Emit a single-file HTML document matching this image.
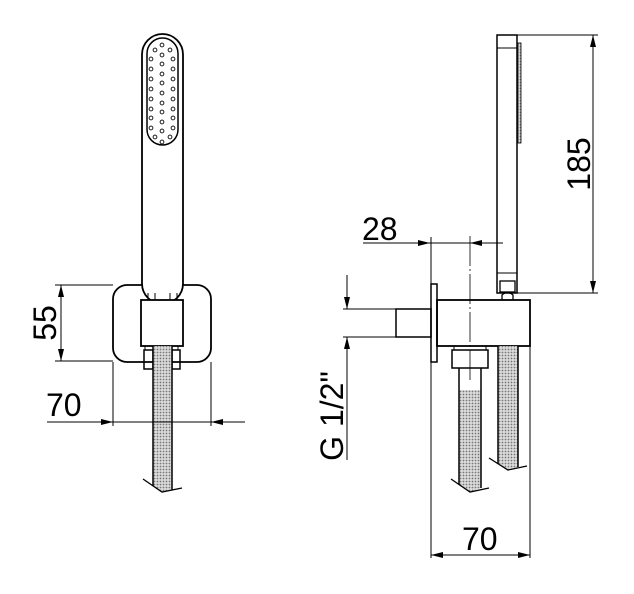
<!DOCTYPE html>
<html><head><meta charset="utf-8"><style>html,body{margin:0;padding:0;background:#fff}svg{display:block}</style></head>
<body>
<svg width="634" height="594" viewBox="0 0 634 594" xmlns="http://www.w3.org/2000/svg">
<defs>
<pattern id="dots" width="3" height="3" patternUnits="userSpaceOnUse"><rect width="3" height="3" fill="#dcdcdc"/><circle cx="1.5" cy="1.5" r="0.9" fill="#777"/></pattern>
<marker id="ar" viewBox="0 0 12 6" refX="12" refY="3" markerWidth="12" markerHeight="6" orient="auto" markerUnits="userSpaceOnUse"><path d="M0,0 L12,3 L0,6 Z" fill="#000"/></marker>
</defs>
<g fill="none" stroke="#000" stroke-width="1">
<!-- LEFT VIEW -->
<rect x="113" y="285" width="98" height="77" rx="14" stroke-width="1.8"/>
<rect x="142" y="34" width="41" height="270" rx="20.5" fill="#fff" stroke-width="1.8"/>
<rect x="147" y="38" width="31" height="107" rx="15.5" stroke-width="1.5"/>
<line x1="148" y1="293" x2="148" y2="300"/><line x1="177" y1="293" x2="177" y2="300"/>
<line x1="155" y1="293" x2="155" y2="300"/><line x1="170" y1="293" x2="170" y2="300"/>
<rect x="141" y="300" width="42" height="46" fill="#fff" stroke-width="1.8"/>
<rect x="145" y="346" width="33" height="4"/>
<rect x="144" y="350" width="9" height="19" stroke-width="1.5"/>
<rect x="172" y="350" width="8" height="19" stroke-width="1.5"/>
<path d="M153,346 L172,346 L172,489 L162,492 L153,486 Z" fill="url(#dots)" stroke="none"/>
<line x1="153" y1="346" x2="153" y2="486" stroke-width="1.5"/><line x1="172" y1="346" x2="172" y2="490" stroke-width="1.5"/>
<polyline points="143,479 162,492 182,488" stroke-width="1.3"/>
<!-- dims left -->
<line x1="55" y1="285" x2="113" y2="285"/><line x1="55" y1="361" x2="113" y2="361"/>
<line x1="61" y1="300" x2="61" y2="285" marker-end="url(#ar)"/>
<line x1="61" y1="346" x2="61" y2="361" marker-end="url(#ar)"/>
<line x1="61" y1="300" x2="61" y2="346"/>
<line x1="113" y1="362" x2="113" y2="426"/><line x1="211" y1="362" x2="211" y2="426"/>
<line x1="47" y1="422" x2="113" y2="422" marker-end="url(#ar)"/>
<line x1="113" y1="422" x2="211" y2="422"/>
<line x1="245" y1="422" x2="211" y2="422" marker-end="url(#ar)"/>
<!-- RIGHT VIEW -->
<rect x="497" y="35" width="20" height="258" stroke-width="1.5"/>
<line x1="497" y1="48" x2="517" y2="48"/>
<line x1="497" y1="273" x2="517" y2="273"/>
<rect x="518" y="43" width="3" height="100" fill="url(#dots)" stroke-width="0.8"/>
<rect x="500" y="281" width="15" height="11" stroke-width="1.3"/>
<path d="M502,300 L502,295 Q507.5,290 513,295 L513,300" stroke-width="1.3"/>
<rect x="437" y="300" width="93" height="46" stroke-width="1.8"/>
<rect x="431" y="284" width="6" height="78" stroke-width="1.5"/>
<rect x="396" y="309" width="35" height="28" stroke-width="1.5"/>
<line x1="343" y1="309" x2="396" y2="309"/><line x1="343" y1="337" x2="396" y2="337"/>
<rect x="454" y="346" width="32" height="4"/>
<rect x="452" y="350" width="36" height="18" stroke-width="1.5"/>
<path d="M459,390 L481,390 L481,488 L470,492 L459,485 Z" fill="url(#dots)" stroke="none"/>
<line x1="459" y1="368" x2="459" y2="485" stroke-width="1.5"/><line x1="481" y1="368" x2="481" y2="488" stroke-width="1.5"/>
<polyline points="451,479 470,492 489,488" stroke-width="1.3"/>
<path d="M498,346 L518,346 L518,467 L508,470 L498,464 Z" fill="url(#dots)" stroke="none"/>
<line x1="498" y1="346" x2="498" y2="464" stroke-width="1.5"/><line x1="518" y1="346" x2="518" y2="467" stroke-width="1.5"/>
<polyline points="489,458 508,470 527,466" stroke-width="1.3"/>
<line x1="470" y1="236" x2="470" y2="380" stroke-dasharray="30,3,2,3" stroke-width="0.8"/>
<!-- dims right -->
<line x1="517" y1="35" x2="598" y2="35"/><line x1="517" y1="293" x2="598" y2="293"/>
<line x1="593" y1="80" x2="593" y2="35" marker-end="url(#ar)"/>
<line x1="593" y1="250" x2="593" y2="293" marker-end="url(#ar)"/>
<line x1="593" y1="80" x2="593" y2="250"/>
<line x1="363" y1="243" x2="430" y2="243" marker-end="url(#ar)"/>
<line x1="430" y1="243" x2="470" y2="243"/>
<line x1="503" y1="243" x2="470" y2="243" marker-end="url(#ar)"/>
<line x1="431" y1="237" x2="431" y2="558"/>
<line x1="530" y1="346" x2="530" y2="558"/>
<line x1="480" y1="555" x2="431" y2="555" marker-end="url(#ar)"/>
<line x1="480" y1="555" x2="530" y2="555" marker-end="url(#ar)"/>
<line x1="347" y1="275" x2="347" y2="309" marker-end="url(#ar)"/>
<line x1="347" y1="460" x2="347" y2="337" marker-end="url(#ar)"/>
</g>
<g fill="none" stroke="#000" stroke-width="0.9">
<circle cx="162" cy="45" r="1.9"/>
<circle cx="162" cy="55" r="1.9"/><circle cx="162" cy="64" r="1.9"/><circle cx="162" cy="74" r="1.9"/><circle cx="162" cy="83" r="1.9"/><circle cx="162" cy="93" r="1.9"/><circle cx="162" cy="103" r="1.9"/><circle cx="162" cy="112" r="1.9"/><circle cx="162" cy="122" r="1.9"/><circle cx="162" cy="131" r="1.9"/><circle cx="162" cy="142" r="1.9"/>
<circle cx="151" cy="59" r="1.9"/><circle cx="151" cy="69" r="1.9"/><circle cx="151" cy="79" r="1.9"/><circle cx="151" cy="89" r="1.9"/><circle cx="151" cy="99" r="1.9"/><circle cx="151" cy="109" r="1.9"/><circle cx="151" cy="118" r="1.9"/><circle cx="151" cy="128" r="1.9"/>
<circle cx="173" cy="59" r="1.9"/><circle cx="173" cy="69" r="1.9"/><circle cx="173" cy="79" r="1.9"/><circle cx="173" cy="89" r="1.9"/><circle cx="173" cy="99" r="1.9"/><circle cx="173" cy="109" r="1.9"/><circle cx="173" cy="118" r="1.9"/><circle cx="173" cy="128" r="1.9"/>
<circle cx="155" cy="50" r="1.9"/><circle cx="170" cy="50" r="1.9"/><circle cx="155" cy="137" r="1.9"/><circle cx="170" cy="137" r="1.9"/>
</g>
<g font-family="Liberation Sans, sans-serif" font-size="32" fill="#000">
<text x="46" y="416">70</text>
<text x="462" y="550">70</text>
<text x="362" y="240">28</text>
<text transform="translate(590,164) rotate(-90)" text-anchor="middle">185</text>
<text transform="translate(56,323) rotate(-90)" text-anchor="middle">55</text>
<text transform="translate(343,416) rotate(-90)" text-anchor="middle">G 1/2"</text>
</g>
</svg>
</body></html>
